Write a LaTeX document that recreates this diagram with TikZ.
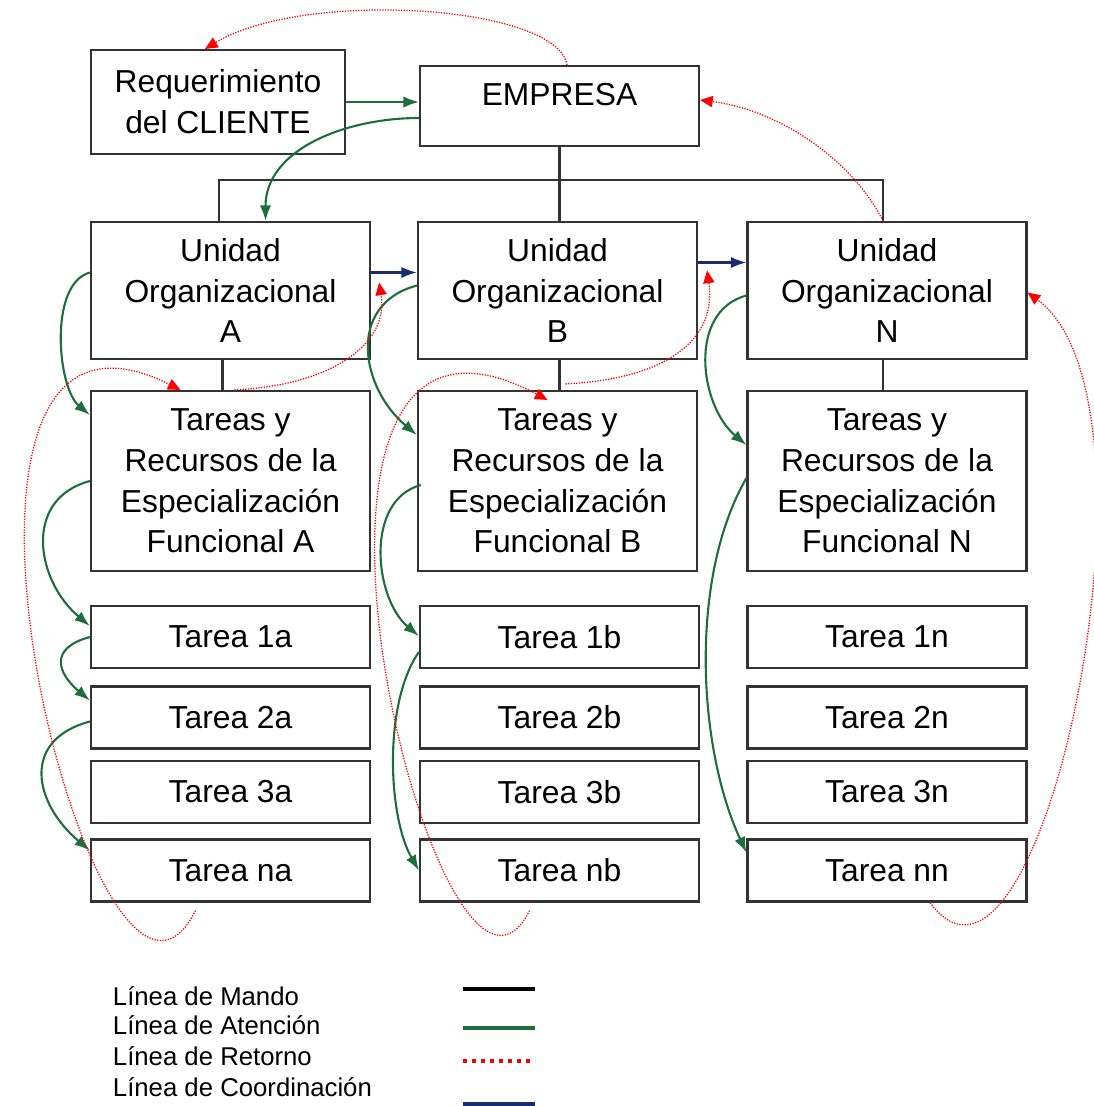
\documentclass[tikz,border=0pt]{standalone}
\usepackage{fontspec}
\setmainfont{Liberation Sans}
\usepackage{xcolor}
\definecolor{verde}{RGB}{30,110,60}
\definecolor{azul}{RGB}{25,45,110}
\usetikzlibrary{positioning,calc,arrows.meta}

\begin{document}
\begin{tikzpicture}[x=0.025cm, y=-0.025cm,
    box/.style={draw=black!80, line width=1.5pt, align=center, inner sep=0pt,
        minimum width=6.975cm, font=\fontsize{22.6}{29}\selectfont},
    mando/.style={draw=black!80, line width=1.5pt},
    atencion/.style={draw=verde, line width=1.5pt, -{Latex[length=11pt,width=8pt]}},
    coord/.style={draw=azul, line width=1.5pt, -{Latex[length=11pt,width=8pt]}},
    retorno/.style={draw=red, line width=0.9pt, densely dotted, -{Triangle[length=9pt,width=8pt]}},
    leyenda/.style={anchor=west, font=\fontsize{18.3}{21.5}\selectfont}]
    \useasboundingbox (0,0) rectangle (1093,1106);

    \node[box, minimum width=6.35cm, minimum height=2.6cm] (cliente) at (218,102) {Requerimiento\\del CLIENTE};
    \node[box, minimum height=2cm, text depth=16pt] (empresa) at (559.5,106) {EMPRESA};

    \node[box, minimum height=3.425cm] (ua) at (230.5,290.5) {Unidad\\Organizacional\\A};
    \node[box, minimum height=3.425cm] (ub) at (557.5,290.5) {Unidad\\Organizacional\\B};
    \node[box, minimum height=3.425cm] (un) at (887,290.5) {Unidad\\Organizacional\\N};

    \node[box, minimum height=4.5cm] (ta) at (230.5,481) {Tareas y\\Recursos de la\\Especialización\\Funcional A};
    \node[box, minimum height=4.5cm] (tb) at (557.5,481) {Tareas y\\Recursos de la\\Especialización\\Funcional B};
    \node[box, minimum height=4.5cm] (tn) at (887,481) {Tareas y\\Recursos de la\\Especialización\\Funcional N};

    \foreach \y/\k in {637/1, 717.5/2, 792/3, 870.5/n}
        \foreach \x/\c in {230.5/a, 559.5/b, 887/n}
            \node[box, minimum height=1.55cm] (t\k\c) at (\x,\y) {Tarea \k\c};

    % linea de mando
    \coordinate (busL) at (219,180);
    \coordinate (busR) at (883,180);
    \draw[mando] (empresa.south) -- (empresa.south |- ub.north);
    \draw[mando] (ua.north -| busL) -- (busL) -- (busR) -- (un.north -| busR);
    \draw[mando] ($(ua.south)+(-8,0)$) -- ($(ta.north)+(-8,0)$);
    \draw[mando] ($(ub.south)+(2,0)$) -- ($(tb.north)+(2,0)$);
    \draw[mando] ($(un.south)+(-4,0)$) -- ($(tn.north)+(-4,0)$);

    % linea de atencion
    \draw[atencion] (cliente.east) -- (cliente.east -| empresa.west);
    \draw[atencion] ($(empresa.west)+(0,12)$) to[out=180, in=90] ($(ua.north)+(35,0)$);
    \draw[atencion] ($(ua.west)+(0,-18)$) to[out=195, in=140, looseness=0.77] ($(ta.west)+(0,-66)$);
    \draw[atencion] ($(ub.west)+(0,-5)$) to[out=195, in=140, looseness=1.26] ($(tb.west)+(0,-46)$);
    \draw[atencion] ($(un.west)+(0,5)$) to[out=195, in=140, looseness=1.05] ($(tn.west)+(0,-36)$);
    \draw[atencion] (ta.west) to[out=195, in=140, looseness=1.24] ($(t1a.west)+(0,-11)$);
    \draw[atencion] (t1a.west) to[out=195, in=140, looseness=1.72] ($(t2a.west)+(0,-17)$);
    \draw[atencion] ($(t2a.west)+(0,4)$) to[out=195, in=140, looseness=1.44] ($(tna.west)+(0,-20)$);
    \draw[atencion] ($(tb.west)+(4,4)$) to[out=195, in=140, looseness=0.99] ($(t1b.west)+(0,-1)$);
    \draw[atencion] ($(t1b.west)+(0,15)$) to[out=235, in=120, looseness=0.73] (tnb.west);
    \draw[atencion] ($(tn.west)+(0,-3)$) to[out=240, in=115, looseness=0.79] ($(tnn.west)+(0,-18)$);

    % linea de coordinacion
    \draw[coord] ($(ua.east)+(0,-18)$) -- ($(ub.west)+(0,-18)$);
    \draw[coord] ($(ub.east)+(0,-28)$) -- ($(un.west)+(0,-28)$);

    % linea de retorno
    \draw[retorno] ($(empresa.north)+(7.5,0)$) .. controls +(-10,-60) and +(100,-60) .. ($(cliente.north)+(-13,0)$);
    \draw[retorno] ($(un.north)+(-4,0)$) .. controls +(-30,-60) and +(80,10) .. ($(empresa.east)+(0,-6)$);
    \draw[retorno] ($(tnn.south)+(43,0)$) .. controls +(110,150) and +(150,110) .. ($(un.east)+(0,2)$);
    \draw[retorno] ($(tna.south)+(-35,8)$) .. controls +(-100,200) and +(-300,-150) .. ($(ta.north)+(-50,0)$);
    \draw[retorno] ($(tnb.south)+(-30,8)$) .. controls +(-90,180) and +(-320,-170) .. ($(tb.north)+(-10,10)$);
    \draw[retorno] ($(ta.north)+(4,0)$) .. controls +(100,-5) and +(10,60) .. ($(ua.east)+(8,-8)$);
    \draw[retorno] ($(tb.north)+(8,-6)$) .. controls +(100,-5) and +(10,70) .. ($(ub.east)+(9,-20)$);

    % leyenda
    \node[leyenda] (lmando) at (108,996) {Línea de Mando};
    \node[leyenda] (laten) at (108,1025) {Línea de Atención};
    \node[leyenda] (lret) at (108,1056) {Línea de Retorno};
    \node[leyenda] (lcoord) at (108,1087) {Línea de Coordinación};
    \draw[black, line width=2.2pt] (463,989) -- (535,989);
    \draw[verde, line width=2.2pt] (463,1028) -- (535,1028);
    \draw[red, line width=2.4pt, dash pattern=on 3pt off 3.4pt] (463,1061) -- (535,1061);
    \draw[azul, line width=2.2pt] (463,1104) -- (535,1104);
\end{tikzpicture}
\end{document}
